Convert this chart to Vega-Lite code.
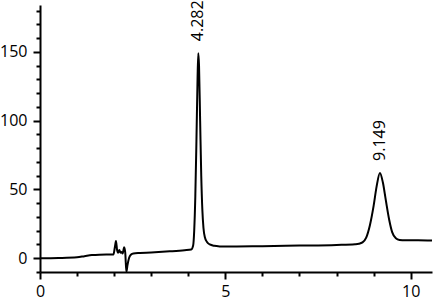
{
  "$schema": "https://vega.github.io/schema/vega-lite/v6.json",
  "width": 392,
  "height": 267,
  "autosize": {"type": "none"},
  "padding": {"left": 40, "top": 5, "right": 3, "bottom": 28},
  "background": "white",
  "config": {
    "view": {"stroke": null},
    "font": "Open Sans",
    "axis": {"grid": false, "domainColor": "black", "domainWidth": 2, "tickColor": "black", "tickWidth": 2, "labelColor": "black", "labelFont": "Open Sans", "labelFontSize": 16, "title": null}
  },
  "layer": [
    {
      "data": {"values": [
        {"t": 0, "v": 0}, {"t": 0.5, "v": 0.2}, {"t": 1.0, "v": 0.7}, {"t": 1.2, "v": 1.5}, {"t": 1.4, "v": 2.3}, {"t": 1.6, "v": 2.6}, {"t": 1.98, "v": 2.7},
        {"t": 2.02, "v": 8}, {"t": 2.05, "v": 12.5}, {"t": 2.08, "v": 6}, {"t": 2.11, "v": 4}, {"t": 2.14, "v": 6}, {"t": 2.17, "v": 4}, {"t": 2.2, "v": 4.5}, {"t": 2.23, "v": 3.5}, {"t": 2.27, "v": 8}, {"t": 2.3, "v": 4}, {"t": 2.33, "v": -10}, {"t": 2.36, "v": -5}, {"t": 2.4, "v": 0}, {"t": 2.45, "v": 2.5}, {"t": 2.52, "v": 3.5},
        {"t": 2.7, "v": 3.8}, {"t": 3.0, "v": 4.2}, {"t": 3.5, "v": 5.0}, {"t": 3.9, "v": 5.8}, {"t": 4.08, "v": 6.3}, {"t": 4.13, "v": 9},
        {"t": 4.16, "v": 20}, {"t": 4.19, "v": 45}, {"t": 4.22, "v": 85}, {"t": 4.25, "v": 130}, {"t": 4.27, "v": 149}, {"t": 4.29, "v": 140}, {"t": 4.32, "v": 100}, {"t": 4.35, "v": 60}, {"t": 4.38, "v": 35}, {"t": 4.41, "v": 22}, {"t": 4.45, "v": 15}, {"t": 4.5, "v": 12}, {"t": 4.58, "v": 10}, {"t": 4.7, "v": 9}, {"t": 4.85, "v": 8.6}, {"t": 5.0, "v": 8.5},
        {"t": 6.0, "v": 8.8}, {"t": 7.0, "v": 9.2}, {"t": 8.0, "v": 9.7}, {"t": 8.5, "v": 10.2},
        {"t": 8.6, "v": 10.5}, {"t": 8.7, "v": 11.5}, {"t": 8.8, "v": 15}, {"t": 8.9, "v": 24}, {"t": 9.0, "v": 38}, {"t": 9.08, "v": 52}, {"t": 9.17, "v": 62}, {"t": 9.25, "v": 55}, {"t": 9.33, "v": 42}, {"t": 9.42, "v": 28}, {"t": 9.5, "v": 19}, {"t": 9.6, "v": 14.5}, {"t": 9.7, "v": 13.3}, {"t": 9.85, "v": 13}, {"t": 10.2, "v": 13}, {"t": 10.575, "v": 12.8}
      ]},
      "mark": {"type": "line", "color": "black", "strokeWidth": 2, "interpolate": "monotone"},
      "encoding": {
        "x": {"field": "t", "type": "quantitative", "scale": {"domain": [0, 10.575], "nice": false, "zero": false},
          "axis": {"orient": "bottom", "values": [0, 5, 10], "tickSize": 7, "labelPadding": 4, "labelFlush": false}},
        "y": {"field": "v", "type": "quantitative", "scale": {"domain": [-10, 184], "nice": false, "zero": false},
          "axis": {"orient": "left", "values": [0, 50, 100, 150], "tickSize": 7, "labelPadding": 6}}
      }
    },
    {
      "data": {"values": [
        {"t": 4.27, "v": 149, "label": "4.282"},
        {"t": 9.17, "v": 62, "label": "9.149"}
      ]},
      "mark": {"type": "text", "angle": 270, "align": "left", "baseline": "middle", "dx": 12, "fontSize": 16, "font": "Open Sans", "color": "black"},
      "encoding": {
        "x": {"field": "t", "type": "quantitative",
          "axis": {"orient": "bottom", "values": [1, 2, 3, 4, 6, 7, 8, 9], "tickSize": 4, "labels": false, "domain": false}},
        "y": {"field": "v", "type": "quantitative",
          "axis": {"orient": "left", "values": [-10, 10, 20, 30, 40, 60, 70, 80, 90, 110, 120, 130, 140, 160, 170, 180], "tickSize": 4, "labels": false, "domain": false}},
        "text": {"field": "label"}
      }
    }
  ],
  "resolve": {"axis": {"x": "independent", "y": "independent"}}
}
